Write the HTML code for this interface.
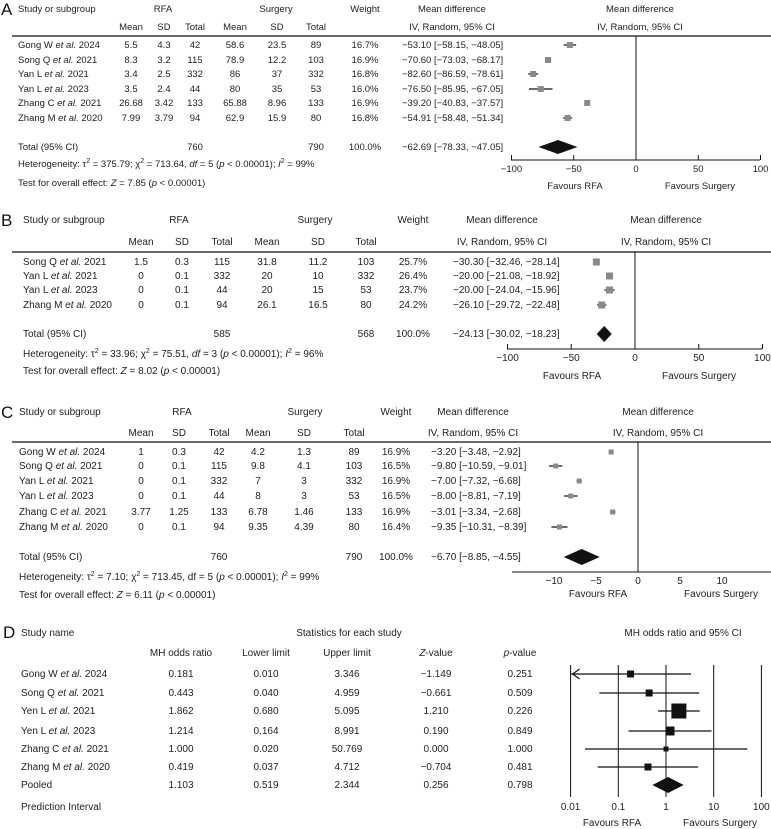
<!DOCTYPE html>
<html><head><meta charset="utf-8"><style>
html,body{margin:0;padding:0;background:#fff;}
svg{display:block;}
text{font-family:"Liberation Sans Narrow","Liberation Sans",sans-serif;font-size:10px;fill:#222;}
.pa text{font-family:"Liberation Sans",sans-serif;font-size:9.5px;}
text.big{font-size:17px;font-family:"Liberation Sans",sans-serif;fill:#111;}
</style></head><body>
<svg id="chart" width="771" height="829" viewBox="0 0 771 829" xmlns="http://www.w3.org/2000/svg"></svg>
<script>
// ---------- Panel A data ----------
const aStudies=["Gong W et al. 2024","Song Q et al. 2021","Yan L et al. 2021","Yan L et al. 2023","Zhang C et al. 2021","Zhang M et al. 2020"];
const aRfaMean=["5.5","8.3","3.4","3.5","26.68","7.99"];
const aRfaSD=["4.3","3.2","2.5","2.4","3.42","3.79"];
const aRfaN=["42","115","332","44","133","94"];
const aSurMean=["58.6","78.9","86","80","65.88","62.9"];
const aSurSD=["23.5","12.2","37","35","8.96","15.9"];
const aSurN=["89","103","332","53","133","80"];
const aWeight=["16.7%","16.9%","16.8%","16.0%","16.9%","16.8%"];
const aMD=[-53.10,-70.60,-82.60,-76.50,-39.20,-54.91];
const aLo=[-58.15,-73.03,-86.59,-85.95,-40.83,-58.48];
const aHi=[-48.05,-68.17,-78.61,-67.05,-37.57,-51.34];
const aTotal=[-62.69,-78.33,-47.05];
const aTicks=[-100,-50,0,50,100];
// ---------- Panel B data ----------
const bStudies=["Song Q et al. 2021","Yan L et al. 2021","Yan L et al. 2023","Zhang M et al. 2020"];
const bRfaMean=["1.5","0","0","0"];
const bRfaSD=["0.3","0.1","0.1","0.1"];
const bRfaN=["115","332","44","94"];
const bSurMean=["31.8","20","20","26.1"];
const bSurSD=["11.2","10","15","16.5"];
const bSurN=["103","332","53","80"];
const bWeight=["25.7%","26.4%","23.7%","24.2%"];
const bMD=[-30.30,-20.00,-20.00,-26.10];
const bLo=[-32.46,-21.08,-24.04,-29.72];
const bHi=[-28.14,-18.92,-15.96,-22.48];
const bTotal=[-24.13,-30.02,-18.23];
const bTicks=[-100,-50,0,50,100];
// ---------- Panel C data ----------
const cStudies=["Gong W et al. 2024","Song Q et al. 2021","Yan L et al. 2021","Yan L et al. 2023","Zhang C et al. 2021","Zhang M et al. 2020"];
const cRfaMean=["1","0","0","0","3.77","0"];
const cRfaSD=["0.3","0.1","0.1","0.1","1.25","0.1"];
const cRfaN=["42","115","332","44","133","94"];
const cSurMean=["4.2","9.8","7","8","6.78","9.35"];
const cSurSD=["1.3","4.1","3","3","1.46","4.39"];
const cSurN=["89","103","332","53","133","80"];
const cWeight=["16.9%","16.5%","16.9%","16.5%","16.9%","16.4%"];
const cMD=[-3.20,-9.80,-7.00,-8.00,-3.01,-9.35];
const cLo=[-3.48,-10.59,-7.32,-8.81,-3.34,-10.31];
const cHi=[-2.92,-9.01,-6.68,-7.19,-2.68,-8.39];
const cTotal=[-6.70,-8.85,-4.55];
const cTicks=[-10,-5,0,5,10];
// ---------- Panel D data ----------
const dStudies=["Gong W et al. 2024","Song Q et al. 2021","Yen L et al. 2021","Yen L et al. 2023","Zhang C et al. 2021","Zhang M et al. 2020"];
const dOR=[0.181,0.443,1.862,1.214,1.000,0.419];
const dLo=[0.010,0.040,0.680,0.164,0.020,0.037];
const dHi=[3.346,4.959,5.095,8.991,50.769,4.712];
const dZ=["\u22121.149","\u22120.661","1.210","0.190","0.000","\u22120.704"];
const dP=["0.251","0.509","0.226","0.849","1.000","0.481"];
const dBox=[7,7,15,9,5,7];
const dPooled=[1.103,0.519,2.344];
const dPooledZ="0.256", dPooledP="0.798";
const dTicks=[0.01,0.1,1,10,100];
const dTickLabels=["0.01","0.1","1","10","100"];

const NS="http://www.w3.org/2000/svg";
const svg=document.getElementById('chart');
function mk(tag,attrs,parent){const e=document.createElementNS(NS,tag);for(const k in attrs)e.setAttribute(k,attrs[k]);(parent||svg).appendChild(e);return e;}
function fmt(v){return (v<0?"\u2212":"")+Math.abs(v).toFixed(2);}
function txt(g,x,y,s,anchor,name,html){
  const t=mk('text',{x:x,y:y,'text-anchor':anchor||'start'},g);
  if(html)t.innerHTML=s;else t.textContent=s;
  
  
  return t;
}
function studyHTML(s){return s.replace("et al.","<tspan font-style='italic'>et al.</tspan>");}
function ln(g,x1,y1,x2,y2,name,w,col){
  const l=mk('line',{x1:x1,y1:y1,x2:x2,y2:y2,stroke:col||'#111','stroke-width':w||1},g);
  
  
  return l;
}

function mdPanel(o){
  const g=mk('g',{'class':o.cls||''});
  
  
  txt(g,o.letterX,o.hy+3,o.letter,'start','panel-letter').setAttribute('class','big');
  txt(g,o.cols.study,o.hy,'Study or subgroup','start','study-column-header');
  txt(g,o.cols.rfaH,o.hy,'RFA','middle','rfa-group-header');
  txt(g,o.cols.surH,o.hy,'Surgery','middle','surgery-group-header');
  txt(g,o.cols.w,o.hy,'Weight','middle','weight-header');
  txt(g,o.cols.mdH,o.hy,'Mean difference','middle','md-column-header');
  txt(g,o.cols.mdH,o.sy,'IV, Random, 95% CI','middle','md-method-header');
  txt(g,o.cols.plotH,o.hy,'Mean difference','middle','plot-header');
  txt(g,o.cols.plotH,o.sy,'IV, Random, 95% CI','middle','plot-method-header');
  const sub=[['Mean',o.cols.m1],['SD',o.cols.s1],['Total',o.cols.n1],['Mean',o.cols.m2],['SD',o.cols.s2],['Total',o.cols.n2]];
  sub.forEach(p=>txt(g,p[1],o.sy,p[0],'middle','subheader-'+p[0].toLowerCase()));
  ln(g,12,o.rule,771,o.rule,'header-rule',1.2);
  const X=v=>o.zeroX+v*o.scale;
  o.studies.forEach((s,i)=>{
    const y=o.rows[i];
    txt(g,o.cols.study,y+3,studyHTML(s),'start','study-label',true);
    txt(g,o.cols.m1,y+3,o.rm[i],'middle','rfa-mean');
    txt(g,o.cols.s1,y+3,o.rs[i],'middle','rfa-sd');
    txt(g,o.cols.n1,y+3,o.rn[i],'middle','rfa-total');
    txt(g,o.cols.m2,y+3,o.sm[i],'middle','surgery-mean');
    txt(g,o.cols.s2,y+3,o.ss[i],'middle','surgery-sd');
    txt(g,o.cols.n2,y+3,o.sn[i],'middle','surgery-total');
    txt(g,o.cols.w,y+3,o.wt[i],'middle','study-weight');
    txt(g,o.cols.mdT,y+3,fmt(o.md[i])+" ["+fmt(o.lo[i])+", "+fmt(o.hi[i])+"]",'start','md-ci-value');
    ln(g,X(o.lo[i]),y,X(o.hi[i]),y,'ci-line',1.2);
    const b=o.box;
    const r=mk('rect',{x:X(o.md[i])-b/2,y:y-b/2,width:b,height:b,fill:'#8a8a8a'},g);
    
    
  });
  const ty=o.totY;
  txt(g,o.cols.study,ty+3,'Total (95% CI)','start','total-label');
  txt(g,o.cols.n1,ty+3,o.totN[0],'middle','rfa-total-n');
  txt(g,o.cols.n2,ty+3,o.totN[1],'middle','surgery-total-n');
  txt(g,o.cols.w,ty+3,'100.0%','middle','total-weight');
  txt(g,o.cols.mdT,ty+3,fmt(o.tot[0])+" ["+fmt(o.tot[1])+", "+fmt(o.tot[2])+"]",'start','total-md-value');
  const d=mk('polygon',{points:X(o.tot[1])+","+ty+" "+X(o.tot[0])+","+(ty-o.dh)+" "+X(o.tot[2])+","+ty+" "+X(o.tot[0])+","+(ty+o.dh),fill:'#111'},g);
  
  
  ln(g,X(0),o.rule,X(0),o.axY,'zero-line',1);
  ln(g,o.axL,o.axY,o.axR,o.axY,'x-axis-line',1);
  o.ticks.forEach(t=>{
    if(o.tickLen>0) ln(g,X(t),o.axY,X(t),o.axY-o.tickLen,'x-tick',1);
    txt(g,X(t),o.axY+12,(t<0?"\u2212":"")+Math.abs(t),'middle','x-tick-label');
  });
  txt(g,o.favX[0],o.favY,'Favours RFA','middle','favours-rfa-label');
  txt(g,o.favX[1],o.favY,'Favours Surgery','middle','favours-surgery-label');
  txt(g,o.cols.study,o.hetY,o.het,'start','heterogeneity-text',true);
  txt(g,o.cols.study,o.testY,o.test,'start','overall-effect-text',true);
}

mdPanel({name:'panel-a',cls:'pa',letter:'A',letterX:1,hy:12,sy:30,rule:36,
  cols:{study:18,rfaH:163,surH:276,w:365,mdH:452,plotH:640,m1:131,s1:164,n1:195,m2:235,s2:277,n2:316,mdT:402},
  studies:aStudies,rm:aRfaMean,rs:aRfaSD,rn:aRfaN,sm:aSurMean,ss:aSurSD,sn:aSurN,wt:aWeight,md:aMD,lo:aLo,hi:aHi,
  rows:[45,60,74,89,103,118],box:6,totY:147,totN:['760','790'],tot:aTotal,dh:7,
  zeroX:636,scale:1.245,axY:160,axL:511,axR:760,ticks:aTicks,tickLen:5,favX:[575,700],favY:189,
  het:"Heterogeneity: τ<tspan font-size='7' dy='-4'>2</tspan><tspan dy='4'> = 375.79; χ</tspan><tspan font-size='7' dy='-4'>2</tspan><tspan dy='4'> = 713.64, </tspan><tspan font-style='italic'>df</tspan> = 5 (<tspan font-style='italic'>p</tspan> &lt; 0.00001); <tspan font-style='italic'>I</tspan><tspan font-size='7' dy='-4'>2</tspan><tspan dy='4'> = 99%</tspan>",
  hetY:167,
  test:"Test for overall effect: <tspan font-style='italic'>Z</tspan> = 7.85 (<tspan font-style='italic'>p</tspan> &lt; 0.00001)",testY:186});

mdPanel({name:'panel-b',letter:'B',letterX:1,hy:223,sy:245,rule:252,
  cols:{study:23,rfaH:179,surH:315,w:413,mdH:502,plotH:666,m1:141,s1:182,n1:222,m2:267,s2:318,n2:366,mdT:453},
  studies:bStudies,rm:bRfaMean,rs:bRfaSD,rn:bRfaN,sm:bSurMean,ss:bSurSD,sn:bSurN,wt:bWeight,md:bMD,lo:bLo,hi:bHi,
  rows:[262,276,290,305],box:7,totY:334,totN:['585','568'],tot:bTotal,dh:8,
  zeroX:635,scale:1.275,axY:349,axL:507,axR:762,ticks:bTicks,tickLen:5,favX:[572,699],favY:379,
  het:"Heterogeneity: τ<tspan font-size='7' dy='-4'>2</tspan><tspan dy='4'> = 33.96; χ</tspan><tspan font-size='7' dy='-4'>2</tspan><tspan dy='4'> = 75.51, </tspan><tspan font-style='italic'>df</tspan> = 3 (<tspan font-style='italic'>p</tspan> &lt; 0.00001); <tspan font-style='italic'>I</tspan><tspan font-size='7' dy='-4'>2</tspan><tspan dy='4'> = 96%</tspan>",
  hetY:357,
  test:"Test for overall effect: <tspan font-style='italic'>Z</tspan> = 8.02 (<tspan font-style='italic'>p</tspan> &lt; 0.00001)",testY:374});

mdPanel({name:'panel-c',letter:'C',letterX:1,hy:415,sy:436,rule:442,
  cols:{study:19,rfaH:182,surH:305,w:396,mdH:473,plotH:658,m1:141,s1:179,n1:219,m2:258,s2:304,n2:354,mdT:431},
  studies:cStudies,rm:cRfaMean,rs:cRfaSD,rn:cRfaN,sm:cSurMean,ss:cSurSD,sn:cSurN,wt:cWeight,md:cMD,lo:cLo,hi:cHi,
  rows:[452,466,481,496,512,527],box:5,totY:557,totN:['760','790'],tot:cTotal,dh:8,
  zeroX:638,scale:8.4,axY:572,axL:512,axR:771,ticks:cTicks,tickLen:0,favX:[598,721],favY:597,
  het:"Heterogeneity: τ<tspan font-size='7' dy='-4'>2</tspan><tspan dy='4'> = 7.10; χ</tspan><tspan font-size='7' dy='-4'>2</tspan><tspan dy='4'> = 713.45, df = 5 (</tspan><tspan font-style='italic'>p</tspan> &lt; 0.00001); <tspan font-style='italic'>I</tspan><tspan font-size='7' dy='-4'>2</tspan><tspan dy='4'> = 99%</tspan>",
  hetY:580,
  test:"Test for overall effect: <tspan font-style='italic'>Z</tspan> = 6.11 (<tspan font-style='italic'>p</tspan> &lt; 0.00001)",testY:598});

// ---------- Panel D ----------
(function(){
  const g=mk('g',{});
  
  
  const X=v=>666+Math.log10(v)*47.7;
  txt(g,3,638,'D','start','panel-letter').setAttribute('class','big');
  txt(g,21,636,'Study name','start','study-name-header');
  txt(g,349,636,'Statistics for each study','middle','statistics-header');
  txt(g,683,636,'MH odds ratio and 95% CI','middle','plot-header');
  const cx=[181,266,347,436,520];
  const hd=['MH odds ratio','Lower limit','Upper limit','Z-value','p-value'];
  hd.forEach((h,i)=>{
    const t=txt(g,cx[i],656,h,'middle','column-header');
    if(i>=3){t.innerHTML=(i==3?"<tspan font-style='italic'>Z</tspan>-value":"<tspan font-style='italic'>p</tspan>-value");}
  });
  const rows=[674,693,711,731,749,767];
  dTicks.forEach((t,i)=>{
    ln(g,X(t),665,X(t),797,'log-gridline',1);
    txt(g,X(t),810,dTickLabels[i],'middle','x-tick-label');
  });
  dStudies.forEach((s,i)=>{
    const y=rows[i];
    txt(g,21,y+3,studyHTML(s),'start','study-label',true);
    txt(g,cx[0],y+3,dOR[i].toFixed(3),'middle','odds-ratio-value');
    txt(g,cx[1],y+3,dLo[i].toFixed(3),'middle','lower-limit-value');
    txt(g,cx[2],y+3,dHi[i].toFixed(3),'middle','upper-limit-value');
    txt(g,cx[3],y+3,dZ[i],'middle','z-value');
    txt(g,cx[4],y+3,dP[i],'middle','p-value');
    const lo=Math.max(dLo[i],0.01);
    ln(g,X(lo),y,X(dHi[i]),y,'ci-line',1.2);
    if(dLo[i]<=0.0105){
      const a=mk('polyline',{points:(X(0.01)+9)+","+(y-5)+" "+(X(0.01)+2)+","+y+" "+(X(0.01)+9)+","+(y+5),fill:'none',stroke:'#111','stroke-width':1.2},g);
      
      
    }
    const b=dBox[i];
    const r=mk('rect',{x:X(dOR[i])-b/2,y:y-b/2,width:b,height:b,fill:'#111'},g);
    
    
  });
  const py=785;
  txt(g,21,py+3,'Pooled','start','pooled-label');
  txt(g,cx[0],py+3,dPooled[0].toFixed(3),'middle','pooled-odds-ratio');
  txt(g,cx[1],py+3,dPooled[1].toFixed(3),'middle','pooled-lower');
  txt(g,cx[2],py+3,dPooled[2].toFixed(3),'middle','pooled-upper');
  txt(g,cx[3],py+3,dPooledZ,'middle','pooled-z');
  txt(g,cx[4],py+3,dPooledP,'middle','pooled-p');
  const d=mk('polygon',{points:X(dPooled[1])+","+py+" "+X(dPooled[0])+","+(py-8)+" "+X(dPooled[2])+","+py+" "+X(dPooled[0])+","+(py+8),fill:'#111'},g);
  
  
  txt(g,21,810,'Prediction Interval','start','prediction-interval-label');
  txt(g,612,826,'Favours RFA','middle','favours-rfa-label');
  txt(g,720,826,'Favours Surgery','middle','favours-surgery-label');
})();
</script>
</body></html>
